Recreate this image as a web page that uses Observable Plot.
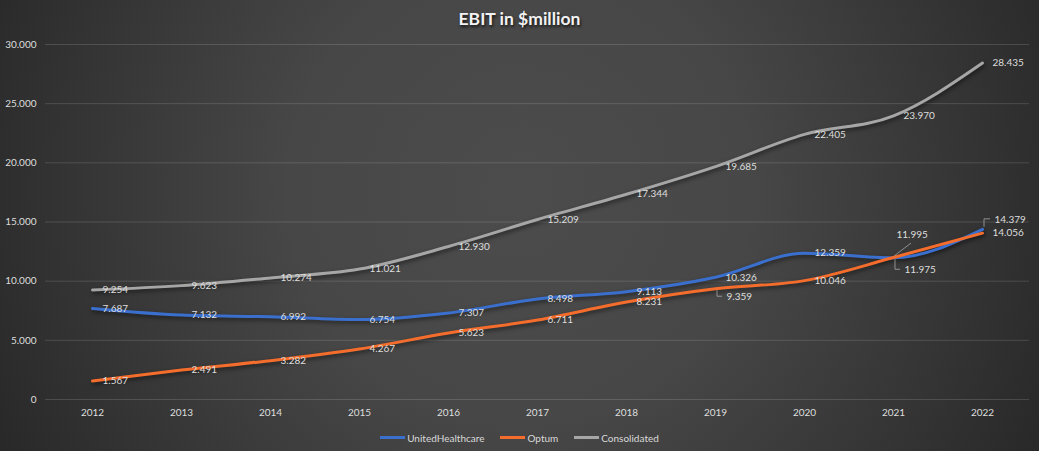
<!DOCTYPE html>
<html><head><meta charset="utf-8">
<script src="https://cdn.jsdelivr.net/npm/d3@7"></script>
<script src="https://cdn.jsdelivr.net/npm/@observablehq/plot@0.6"></script>
<style>
body{margin:0;background:#222;}
#chart{width:1039px;height:451px;position:relative;overflow:hidden;
  background:radial-gradient(circle at 520px 190px,#4c4c4c 0px,#474747 230px,#353535 440px,#232323 640px);
  font-family:Lato,"Open Sans",sans-serif;}
#title{height:32px;line-height:37px;text-align:center;color:#f2f2f2;font-weight:bold;font-size:17.5px;
  text-shadow:1px 2px 3px rgba(0,0,0,0.75);}
#legend{height:27px;display:flex;justify-content:center;align-items:center;gap:16px;color:#d9d9d9;font-size:10px;}
#legend .item{display:flex;align-items:center;gap:2px;}
#legend .sw{display:inline-block;width:25px;height:3px;}
#plot svg{display:block;}
#plot g[aria-label="line"]{filter:drop-shadow(1px 2px 2px rgba(0,0,0,0.55));}
</style></head>
<body>
<div id="chart">
  <div id="title">EBIT in $million</div>
  <div id="plot"></div>
  <div id="legend"></div>
</div>
<script>
const years = [2012, 2013, 2014, 2015, 2016, 2017, 2018, 2019, 2020, 2021, 2022];
const seriesNames = ["UnitedHealthcare", "Optum", "Consolidated"];
const unitedHealthcare = [7687, 7132, 6992, 6754, 7307, 8498, 9113, 10326, 12359, 11975, 14379];
const optum = [1567, 2491, 3282, 4267, 5623, 6711, 8231, 9359, 10046, 11995, 14056];
const consolidated = [9254, 9623, 10274, 11021, 12930, 15209, 17344, 19685, 22405, 23970, 28435];
const yTicks = [0, 5000, 10000, 15000, 20000, 25000, 30000];
const colors = ["#3a6fce", "#f46d2c", "#a6a6a6"];

const valuesBySeries = [unitedHealthcare, optum, consolidated];
const data = seriesNames.flatMap((s, i) => years.map((y, j) => ({series: s, year: String(y), value: valuesBySeries[i][j]})));

const fmt = d3.formatLocale({decimal: ",", thousands: ".", grouping: [3], currency: ["", "$"]}).format(",d");

// labels that Excel moved away from the point, with leader lines
const moved = [
  {series: "Optum", year: "2019", dx: 11, dy: 8, leader: "v"},
  {series: "UnitedHealthcare", year: "2021", dx: 11, dy: 12, leader: "v"},
  {series: "Optum", year: "2021", dx: 3, dy: -23, leader: "diag"},
  {series: "UnitedHealthcare", year: "2022", dx: 12, dy: -10, leader: "v"}
];
const isMoved = d => moved.some(m => m.series === d.series && m.year === d.year);
const labelColor = "#dedede";

const marks = [
  Plot.gridY(yTicks, {stroke: "#ffffff", strokeOpacity: 0.14, strokeWidth: 1}),
  Plot.line(data, {x: "year", y: "value", z: "series", stroke: "series", strokeWidth: 3, curve: "monotone-x"}),
  Plot.text(data.filter(d => !isMoved(d)), {x: "year", y: "value", text: d => fmt(d.value), textAnchor: "start", dx: 10, fill: labelColor, fontSize: 10})
];
for (const m of moved) {
  marks.push(Plot.text(data.filter(d => d.series === m.series && d.year === m.year),
    {x: "year", y: "value", text: d => fmt(d.value), textAnchor: "start", dx: m.dx, dy: m.dy, fill: labelColor, fontSize: 10}));
}
// leader lines drawn through the plot's scales
marks.push((index, scales) => {
  const g = d3.create("svg:g").attr("fill", "none").attr("stroke", "#a6a6a6").attr("stroke-width", 0.8);
  for (const m of moved) {
    const d = data.find(e => e.series === m.series && e.year === m.year);
    const px = scales.x(d.year), py = scales.y(d.value);
    if (m.leader === "v") {
      const ty = py + m.dy;
      g.append("path").attr("d", `M${px + 2},${py + (m.dy > 0 ? 2 : -2)}V${ty}H${px + m.dx - 4}`);
    } else {
      g.append("path").attr("d", `M${px + 1},${py - 1}L${px + 18},${py + m.dy + 9}`);
    }
  }
  return g.node();
});

const plot = Plot.plot({
  width: 1039,
  height: 392,
  marginLeft: 45,
  marginRight: 10,
  marginTop: 12,
  marginBottom: 25,
  style: {background: "transparent", color: labelColor, fontFamily: "Lato, 'Open Sans', sans-serif", fontSize: "10px", overflow: "visible"},
  x: {type: "point", domain: years.map(String), padding: 0.5, label: null, tickSize: 0, tickPadding: 9},
  y: {domain: [0, 30000], ticks: yTicks, tickFormat: fmt, label: null, tickSize: 0, tickPadding: 9},
  color: {domain: seriesNames, range: colors},
  marks
});
document.getElementById("plot").appendChild(plot);

const legend = document.getElementById("legend");
seriesNames.forEach((s, i) => {
  const item = document.createElement("span");
  item.className = "item";
  const sw = document.createElement("span");
  sw.className = "sw";
  sw.style.background = colors[i];
  const t = document.createElement("span");
  t.textContent = s;
  item.appendChild(sw); item.appendChild(t);
  legend.appendChild(item);
});
</script>
</body></html>
